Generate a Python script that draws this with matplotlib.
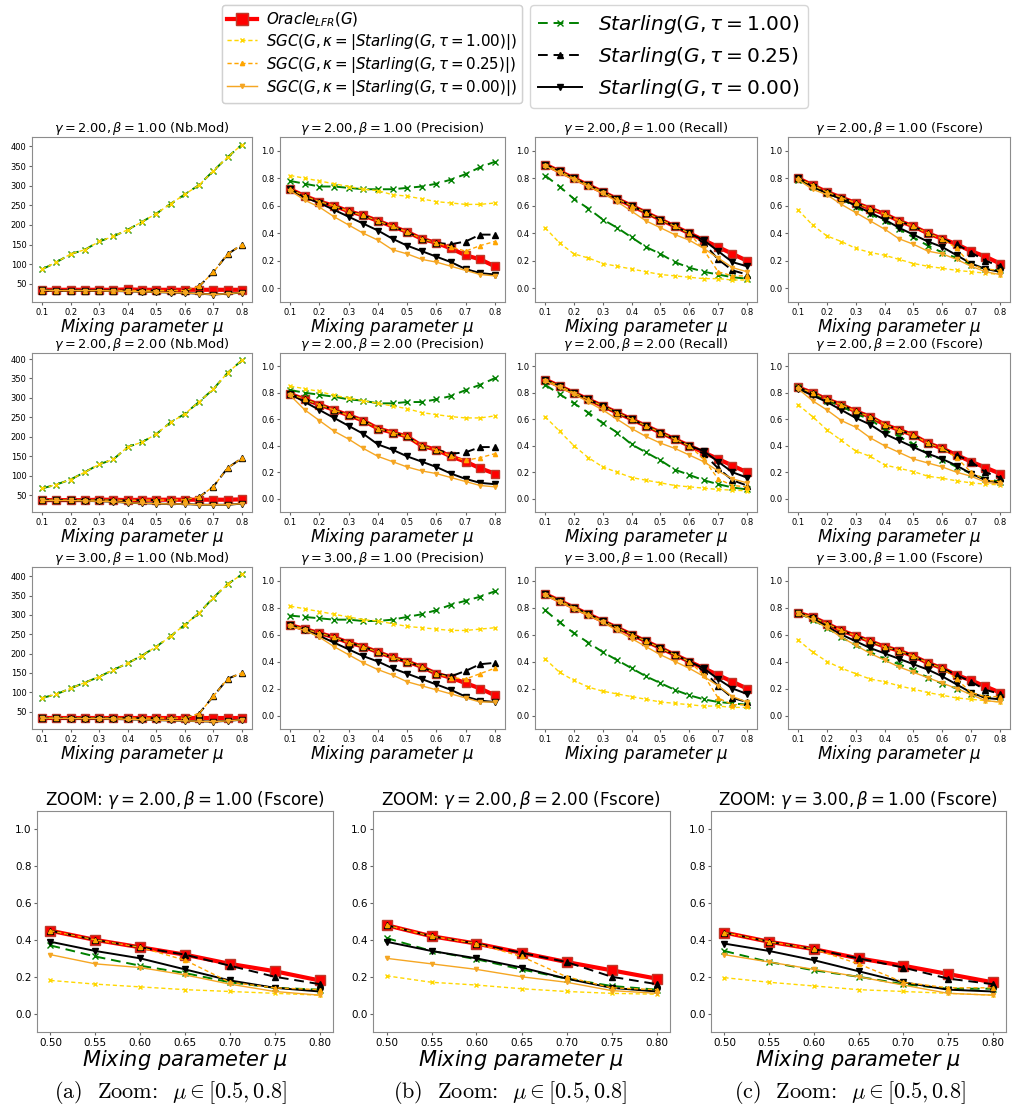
import numpy as np
import matplotlib
matplotlib.use("Agg")
import matplotlib.pyplot as plt
from matplotlib.lines import Line2D

mu = [0.1, 0.15, 0.2, 0.25, 0.3, 0.35, 0.4, 0.45, 0.5, 0.55, 0.6, 0.65, 0.7, 0.75, 0.8]
zoom_from = 8  # zoom panels start at mu = 0.5

# ---- gamma=2, beta=1 ----
g2b1_nbmod = {
    'oracle': [35, 35, 35, 35, 35, 35, 36, 35, 35, 35, 35, 35, 35, 35, 35],
    'st1':    [87, 105, 126, 137, 158, 171, 188, 208, 229, 254, 278, 302, 338, 373, 405],
    'st025':  [33, 33, 33, 33, 33, 33, 33, 33, 33, 33, 33, 44, 80, 126, 150],
    'st0':    [34, 33, 33, 33, 33, 32, 31, 30, 29, 28, 27, 25, 23, 25, 28],
    'sgc1':   [87, 105, 126, 137, 158, 171, 188, 208, 229, 254, 278, 302, 338, 373, 405],
    'sgc025': [33, 33, 33, 33, 33, 33, 33, 33, 33, 33, 33, 44, 80, 126, 150],
    'sgc0':   [34, 33, 33, 33, 33, 32, 31, 30, 29, 28, 27, 25, 23, 25, 28],
}
g2b1_prec = {
    'oracle': [0.72, 0.67, 0.63, 0.60, 0.56, 0.53, 0.49, 0.45, 0.41, 0.36, 0.33, 0.29, 0.24, 0.21, 0.16],
    'st1':    [0.78, 0.76, 0.74, 0.74, 0.73, 0.72, 0.72, 0.72, 0.73, 0.74, 0.76, 0.79, 0.83, 0.88, 0.92],
    'st025':  [0.72, 0.67, 0.63, 0.60, 0.56, 0.53, 0.49, 0.45, 0.41, 0.36, 0.33, 0.32, 0.34, 0.39, 0.39],
    'st0':    [0.72, 0.66, 0.62, 0.57, 0.52, 0.47, 0.42, 0.36, 0.31, 0.27, 0.23, 0.19, 0.14, 0.11, 0.10],
    'sgc1':   [0.82, 0.80, 0.78, 0.76, 0.74, 0.72, 0.71, 0.68, 0.67, 0.65, 0.63, 0.62, 0.61, 0.61, 0.62],
    'sgc025': [0.72, 0.67, 0.63, 0.60, 0.56, 0.53, 0.49, 0.45, 0.41, 0.36, 0.33, 0.30, 0.27, 0.31, 0.34],
    'sgc0':   [0.71, 0.64, 0.59, 0.52, 0.46, 0.40, 0.35, 0.28, 0.25, 0.21, 0.19, 0.16, 0.13, 0.10, 0.09],
}
g2b1_rec = {
    'oracle': [0.90, 0.85, 0.80, 0.75, 0.70, 0.65, 0.60, 0.55, 0.50, 0.45, 0.40, 0.35, 0.30, 0.25, 0.20],
    'st1':    [0.82, 0.74, 0.65, 0.58, 0.50, 0.44, 0.37, 0.30, 0.25, 0.19, 0.15, 0.12, 0.10, 0.08, 0.07],
    'st025':  [0.90, 0.85, 0.80, 0.75, 0.70, 0.65, 0.60, 0.55, 0.50, 0.45, 0.40, 0.33, 0.21, 0.13, 0.10],
    'st0':    [0.90, 0.85, 0.80, 0.75, 0.70, 0.65, 0.60, 0.55, 0.50, 0.45, 0.40, 0.35, 0.27, 0.19, 0.16],
    'sgc1':   [0.44, 0.33, 0.25, 0.22, 0.18, 0.16, 0.14, 0.12, 0.10, 0.09, 0.08, 0.07, 0.07, 0.06, 0.06],
    'sgc025': [0.90, 0.85, 0.80, 0.75, 0.70, 0.65, 0.60, 0.55, 0.50, 0.45, 0.40, 0.28, 0.12, 0.09, 0.09],
    'sgc0':   [0.89, 0.84, 0.79, 0.74, 0.69, 0.63, 0.56, 0.49, 0.44, 0.39, 0.35, 0.29, 0.22, 0.15, 0.12],
}
g2b1_fs = {
    'oracle': [0.80, 0.75, 0.70, 0.66, 0.62, 0.58, 0.54, 0.49, 0.45, 0.40, 0.36, 0.32, 0.27, 0.23, 0.18],
    'st1':    [0.79, 0.74, 0.69, 0.65, 0.59, 0.54, 0.49, 0.43, 0.37, 0.31, 0.26, 0.22, 0.17, 0.14, 0.13],
    'st025':  [0.80, 0.75, 0.70, 0.66, 0.62, 0.58, 0.54, 0.49, 0.45, 0.40, 0.36, 0.32, 0.26, 0.20, 0.16],
    'st0':    [0.80, 0.74, 0.69, 0.65, 0.60, 0.55, 0.50, 0.44, 0.39, 0.34, 0.30, 0.24, 0.18, 0.14, 0.12],
    'sgc1':   [0.57, 0.46, 0.38, 0.34, 0.29, 0.26, 0.24, 0.21, 0.18, 0.16, 0.145, 0.13, 0.12, 0.11, 0.10],
    'sgc025': [0.80, 0.75, 0.70, 0.66, 0.62, 0.58, 0.54, 0.49, 0.45, 0.40, 0.36, 0.29, 0.17, 0.14, 0.13],
    'sgc0':   [0.79, 0.72, 0.68, 0.61, 0.55, 0.49, 0.43, 0.36, 0.32, 0.27, 0.25, 0.21, 0.16, 0.12, 0.10],
}

# ---- gamma=2, beta=2 ----
g2b2_nbmod = {
    'oracle': [37, 37, 37, 37, 38, 38, 37, 38, 38, 38, 38, 38, 38, 38, 39],
    'st1':    [67, 77, 90, 109, 129, 142, 174, 186, 207, 237, 259, 290, 323, 365, 397],
    'st025':  [37, 37, 37, 37, 37, 37, 36, 37, 37, 37, 38, 45, 72, 120, 145],
    'st0':    [36, 36, 36, 35, 34, 33, 30, 29, 28, 27, 27, 25, 25, 25, 28],
    'sgc1':   [67, 77, 90, 109, 129, 142, 174, 186, 207, 237, 259, 290, 323, 365, 397],
    'sgc025': [37, 37, 37, 37, 37, 37, 36, 37, 37, 37, 38, 45, 72, 120, 145],
    'sgc0':   [36, 36, 36, 35, 34, 33, 30, 29, 28, 27, 27, 25, 25, 25, 28],
}
g2b2_prec = {
    'oracle': [0.79, 0.75, 0.71, 0.67, 0.63, 0.59, 0.53, 0.50, 0.47, 0.40, 0.37, 0.32, 0.28, 0.23, 0.19],
    'st1':    [0.82, 0.80, 0.785, 0.77, 0.75, 0.74, 0.72, 0.72, 0.73, 0.73, 0.75, 0.775, 0.82, 0.86, 0.91],
    'st025':  [0.79, 0.75, 0.71, 0.67, 0.63, 0.59, 0.53, 0.50, 0.47, 0.40, 0.37, 0.34, 0.35, 0.39, 0.39],
    'st0':    [0.79, 0.73, 0.67, 0.61, 0.55, 0.49, 0.41, 0.37, 0.32, 0.28, 0.24, 0.19, 0.15, 0.12, 0.11],
    'sgc1':   [0.85, 0.83, 0.81, 0.78, 0.76, 0.74, 0.72, 0.70, 0.68, 0.65, 0.635, 0.62, 0.61, 0.61, 0.625],
    'sgc025': [0.79, 0.75, 0.71, 0.67, 0.63, 0.59, 0.53, 0.50, 0.47, 0.40, 0.37, 0.32, 0.29, 0.31, 0.34],
    'sgc0':   [0.78, 0.67, 0.59, 0.51, 0.45, 0.38, 0.32, 0.28, 0.24, 0.21, 0.19, 0.16, 0.13, 0.10, 0.09],
}
g2b2_rec = {
    'oracle': [0.90, 0.85, 0.80, 0.75, 0.70, 0.65, 0.60, 0.55, 0.50, 0.45, 0.40, 0.35, 0.30, 0.25, 0.20],
    'st1':    [0.86, 0.79, 0.72, 0.65, 0.57, 0.50, 0.41, 0.35, 0.29, 0.22, 0.18, 0.14, 0.11, 0.085, 0.07],
    'st025':  [0.90, 0.85, 0.80, 0.75, 0.70, 0.65, 0.60, 0.55, 0.50, 0.45, 0.40, 0.34, 0.23, 0.14, 0.10],
    'st0':    [0.90, 0.85, 0.80, 0.75, 0.70, 0.65, 0.60, 0.55, 0.50, 0.45, 0.40, 0.36, 0.28, 0.20, 0.16],
    'sgc1':   [0.62, 0.51, 0.40, 0.31, 0.24, 0.20, 0.16, 0.14, 0.12, 0.10, 0.09, 0.08, 0.07, 0.065, 0.06],
    'sgc025': [0.90, 0.85, 0.80, 0.75, 0.70, 0.65, 0.60, 0.55, 0.50, 0.45, 0.40, 0.30, 0.15, 0.10, 0.09],
    'sgc0':   [0.89, 0.84, 0.79, 0.73, 0.67, 0.60, 0.53, 0.47, 0.42, 0.38, 0.33, 0.28, 0.21, 0.15, 0.12],
}
g2b2_fs = {
    'oracle': [0.84, 0.80, 0.75, 0.71, 0.66, 0.62, 0.56, 0.52, 0.48, 0.42, 0.38, 0.33, 0.28, 0.235, 0.19],
    'st1':    [0.84, 0.79, 0.74, 0.70, 0.64, 0.60, 0.52, 0.47, 0.41, 0.34, 0.295, 0.24, 0.19, 0.15, 0.13],
    'st025':  [0.84, 0.80, 0.75, 0.71, 0.66, 0.62, 0.56, 0.52, 0.48, 0.42, 0.38, 0.33, 0.28, 0.20, 0.16],
    'st0':    [0.83, 0.78, 0.73, 0.67, 0.61, 0.56, 0.49, 0.44, 0.39, 0.34, 0.30, 0.25, 0.19, 0.14, 0.12],
    'sgc1':   [0.71, 0.62, 0.52, 0.44, 0.36, 0.32, 0.255, 0.23, 0.205, 0.17, 0.155, 0.135, 0.12, 0.11, 0.105],
    'sgc025': [0.84, 0.80, 0.75, 0.71, 0.66, 0.62, 0.56, 0.52, 0.48, 0.42, 0.38, 0.31, 0.20, 0.14, 0.13],
    'sgc0':   [0.83, 0.74, 0.67, 0.59, 0.54, 0.46, 0.40, 0.35, 0.30, 0.27, 0.24, 0.20, 0.17, 0.125, 0.11],
}

# ---- gamma=3, beta=1 ----
g3b1_nbmod = {
    'oracle': [33, 33, 33, 33, 33, 33, 33, 33, 33, 33, 33, 33, 33, 33, 33],
    'st1':    [85, 95, 110, 125, 140, 158, 175, 195, 218, 245, 275, 305, 345, 380, 405],
    'st025':  [33, 33, 33, 33, 33, 33, 33, 33, 33, 33, 33, 45, 90, 135, 150],
    'st0':    [33, 33, 32, 32, 32, 31, 30, 29, 28, 27, 26, 25, 24, 26, 29],
    'sgc1':   [85, 95, 110, 125, 140, 158, 175, 195, 218, 245, 275, 305, 345, 380, 405],
    'sgc025': [33, 33, 33, 33, 33, 33, 33, 33, 33, 33, 33, 45, 90, 135, 150],
    'sgc0':   [33, 33, 32, 32, 32, 31, 30, 29, 28, 27, 26, 25, 24, 26, 29],
}
g3b1_prec = {
    'oracle': [0.67, 0.64, 0.61, 0.58, 0.54, 0.51, 0.47, 0.43, 0.40, 0.36, 0.31, 0.28, 0.24, 0.20, 0.15],
    'st1':    [0.74, 0.73, 0.72, 0.71, 0.71, 0.70, 0.70, 0.71, 0.73, 0.75, 0.78, 0.82, 0.85, 0.88, 0.92],
    'st025':  [0.67, 0.64, 0.61, 0.58, 0.54, 0.51, 0.47, 0.43, 0.40, 0.36, 0.31, 0.29, 0.33, 0.38, 0.39],
    'st0':    [0.67, 0.63, 0.59, 0.54, 0.49, 0.44, 0.40, 0.35, 0.31, 0.27, 0.23, 0.19, 0.14, 0.11, 0.10],
    'sgc1':   [0.81, 0.79, 0.77, 0.75, 0.73, 0.71, 0.70, 0.68, 0.66, 0.65, 0.64, 0.63, 0.63, 0.64, 0.65],
    'sgc025': [0.67, 0.64, 0.61, 0.58, 0.54, 0.51, 0.47, 0.43, 0.40, 0.36, 0.31, 0.28, 0.27, 0.31, 0.35],
    'sgc0':   [0.66, 0.63, 0.58, 0.51, 0.45, 0.39, 0.34, 0.30, 0.25, 0.22, 0.19, 0.16, 0.13, 0.10, 0.10],
}
g3b1_rec = {
    'oracle': [0.90, 0.85, 0.80, 0.75, 0.70, 0.65, 0.60, 0.55, 0.50, 0.45, 0.40, 0.35, 0.30, 0.25, 0.20],
    'st1':    [0.78, 0.69, 0.61, 0.54, 0.47, 0.41, 0.35, 0.29, 0.24, 0.19, 0.15, 0.12, 0.10, 0.09, 0.08],
    'st025':  [0.90, 0.85, 0.80, 0.75, 0.70, 0.65, 0.60, 0.55, 0.50, 0.45, 0.40, 0.33, 0.22, 0.13, 0.10],
    'st0':    [0.90, 0.85, 0.80, 0.75, 0.70, 0.65, 0.60, 0.55, 0.50, 0.45, 0.40, 0.35, 0.27, 0.20, 0.16],
    'sgc1':   [0.42, 0.32, 0.26, 0.21, 0.18, 0.16, 0.14, 0.12, 0.10, 0.09, 0.08, 0.07, 0.07, 0.06, 0.06],
    'sgc025': [0.90, 0.85, 0.80, 0.75, 0.70, 0.65, 0.60, 0.55, 0.50, 0.45, 0.40, 0.30, 0.13, 0.08, 0.08],
    'sgc0':   [0.89, 0.84, 0.79, 0.74, 0.69, 0.63, 0.57, 0.51, 0.45, 0.40, 0.35, 0.29, 0.22, 0.14, 0.10],
}
g3b1_fs = {
    'oracle': [0.76, 0.73, 0.68, 0.63, 0.59, 0.55, 0.51, 0.48, 0.44, 0.39, 0.35, 0.30, 0.26, 0.215, 0.17],
    'st1':    [0.76, 0.71, 0.65, 0.58, 0.52, 0.47, 0.42, 0.38, 0.34, 0.28, 0.235, 0.20, 0.16, 0.135, 0.135],
    'st025':  [0.76, 0.73, 0.68, 0.63, 0.59, 0.55, 0.51, 0.48, 0.44, 0.39, 0.35, 0.30, 0.25, 0.19, 0.16],
    'st0':    [0.76, 0.72, 0.66, 0.60, 0.55, 0.50, 0.46, 0.42, 0.38, 0.34, 0.29, 0.23, 0.17, 0.13, 0.12],
    'sgc1':   [0.56, 0.47, 0.40, 0.35, 0.31, 0.27, 0.25, 0.22, 0.195, 0.17, 0.15, 0.13, 0.12, 0.11, 0.10],
    'sgc025': [0.76, 0.73, 0.68, 0.63, 0.59, 0.55, 0.51, 0.48, 0.44, 0.39, 0.35, 0.27, 0.17, 0.14, 0.14],
    'sgc0':   [0.76, 0.71, 0.65, 0.58, 0.52, 0.46, 0.41, 0.36, 0.32, 0.28, 0.24, 0.20, 0.155, 0.11, 0.10],
}

rows = [
    (r'$\gamma = 2.00, \beta = 1.00$', [g2b1_nbmod, g2b1_prec, g2b1_rec, g2b1_fs]),
    (r'$\gamma = 2.00, \beta = 2.00$', [g2b2_nbmod, g2b2_prec, g2b2_rec, g2b2_fs]),
    (r'$\gamma = 3.00, \beta = 1.00$', [g3b1_nbmod, g3b1_prec, g3b1_rec, g3b1_fs]),
]
metrics = ['Nb.Mod', 'Precision', 'Recall', 'Fscore']
captions = ['(a)', '(b)', '(c)']

labels = {
    'oracle': r'$Oracle_{LFR}(G)$',
    'sgc1':   r'$SGC(G, \kappa = |Starling(G, \tau = 1.00)|)$',
    'sgc025': r'$SGC(G, \kappa = |Starling(G, \tau = 0.25)|)$',
    'sgc0':   r'$SGC(G, \kappa = |Starling(G, \tau = 0.00)|)$',
    'st1':    r'$Starling(G, \tau = 1.00)$',
    'st025':  r'$Starling(G, \tau = 0.25)$',
    'st0':    r'$Starling(G, \tau = 0.00)$',
}
styles = {
    'oracle': dict(color='red', ls='-', lw=3, marker='s', ms=6, mec='#c0392b'),
    'st1':    dict(color='green', ls=(0, (5, 3)), lw=1.4, marker='x', ms=4),
    'st025':  dict(color='black', ls=(0, (5, 3)), lw=1.4, marker='^', ms=4),
    'st0':    dict(color='black', ls='-', lw=1.4, marker='v', ms=4),
    'sgc1':   dict(color='gold', ls=(0, (3, 2)), lw=1, marker='x', ms=3),
    'sgc025': dict(color='orange', ls=(0, (3, 2)), lw=1, marker='^', ms=3),
    'sgc0':   dict(color='#f5a623', ls='-', lw=1, marker='v', ms=3),
}
order = ['oracle', 'st1', 'st025', 'st0', 'sgc1', 'sgc025', 'sgc0']

W, H = 1019, 1116
fig = plt.figure(figsize=(W / 100, H / 100), dpi=100)


def box(x0, y0, x1, y1):
    return [x0 / W, 1 - y1 / H, (x1 - x0) / W, (y1 - y0) / H]


def style_axes(ax, tick_size):
    for s in ax.spines.values():
        s.set_color('0.55')
    ax.tick_params(labelsize=tick_size, color='0.4', length=2.5, pad=1.5)


cols = [(32, 252), (280, 505), (535, 757), (788, 1010)]
row_y = [(137, 302), (353, 512), (567, 729)]

for r, (gb, panels) in enumerate(rows):
    for c, data in enumerate(panels):
        ax = fig.add_axes(box(cols[c][0], row_y[r][0], cols[c][1], row_y[r][1]))
        for key in order:
            ax.plot(mu, data[key], **styles[key])
        ax.set_xticks([0.1, 0.2, 0.3, 0.4, 0.5, 0.6, 0.7, 0.8])
        if c > 0:
            ax.set_ylim(-0.1, 1.1)
            ax.set_yticks([0.0, 0.2, 0.4, 0.6, 0.8, 1.0])
        ax.set_title(gb + ' (' + metrics[c] + ')', fontsize=9.3, pad=2)
        ax.set_xlabel(r'Mixing parameter $\mu$', fontsize=12, style='italic', labelpad=-0.5)
        style_axes(ax, 6)

zoom_x = [(37, 333), (373, 670), (711, 1006)]
caption_x = [170, 510, 850]
for i, (gb, panels) in enumerate(rows):
    data = panels[3]
    ax = fig.add_axes(box(zoom_x[i][0], 811, zoom_x[i][1], 1032))
    for key in order:
        st = dict(styles[key])
        if key == 'oracle':
            st['ms'] = 7
        ax.plot(mu[zoom_from:], data[key][zoom_from:], **st)
    ax.set_ylim(-0.1, 1.1)
    ax.set_yticks([0.0, 0.2, 0.4, 0.6, 0.8, 1.0])
    ax.set_xticks(mu[zoom_from:])
    ax.set_xticklabels(['%.2f' % v for v in mu[zoom_from:]])
    ax.set_title('ZOOM: ' + gb + ' (Fscore)', fontsize=12, pad=4)
    ax.set_xlabel(r'Mixing parameter $\mu$', fontsize=15, style='italic', labelpad=0)
    style_axes(ax, 7.5)
    fig.text(caption_x[i] / W, 1 - 1093 / H, captions[i] + r'  Zoom:  $\mu \in [0.5, 0.8]$',
             ha='center', va='center', fontsize=16, family='cmr10', math_fontfamily='cm')

h1 = [Line2D([], [], **styles[k]) for k in ['oracle', 'sgc1', 'sgc025', 'sgc0']]
h1[0].set_markersize(9)
leg1 = fig.legend(h1, [labels[k] for k in ['oracle', 'sgc1', 'sgc025', 'sgc0']],
                  loc='upper left', bbox_to_anchor=(222 / W, 1 - 5 / H), borderaxespad=0,
                  fontsize=10.8, labelspacing=0.2, borderpad=0.35, handlelength=2.0,
                  handletextpad=0.6)
h2 = [Line2D([], [], **styles[k]) for k in ['st1', 'st025', 'st0']]
leg2 = fig.legend(h2, [labels[k] for k in ['st1', 'st025', 'st0']],
                  loc='upper left', bbox_to_anchor=(530 / W, 1 - 5 / H), borderaxespad=0,
                  fontsize=14.5, labelspacing=0.45, borderpad=0.4, handlelength=2.2)
fig.add_artist(leg1)

plt.savefig('out.png', dpi=100)
